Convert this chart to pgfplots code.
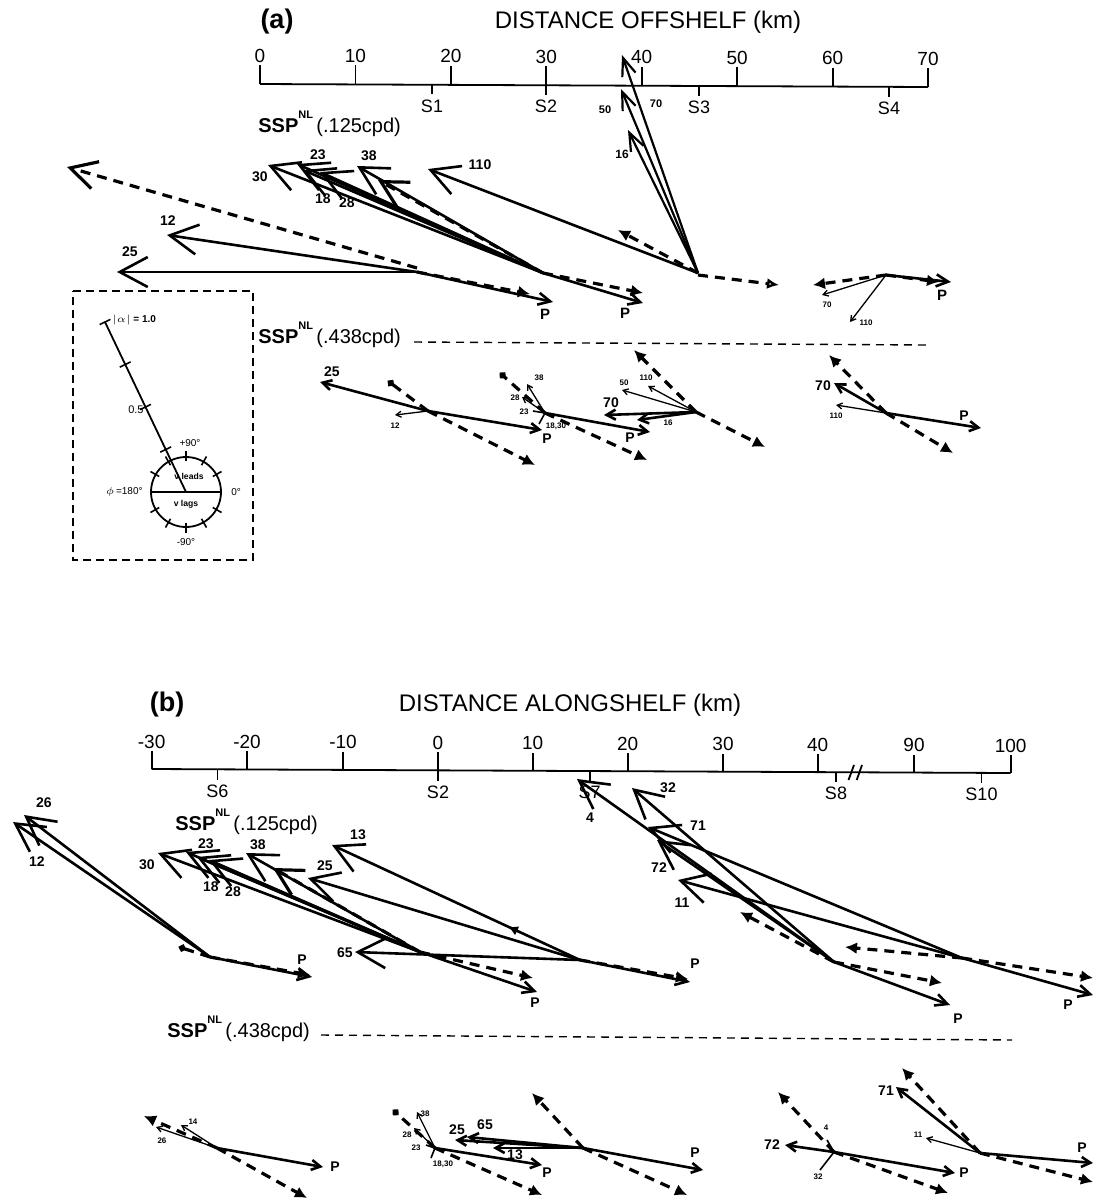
\documentclass[border=0pt]{standalone}
\usepackage{fontspec}
\setmainfont{Liberation Sans}
\usepackage{pgfplots}
\pgfplotsset{compat=1.18}
\usetikzlibrary{arrows.meta}
\tikzset{
 AL/.style={line width=1.3pt,-{Straight Barb[length=14pt,width=15pt]}},
 AN/.style={line width=1.1pt,-{Straight Barb[length=9pt,width=7pt]}},
 AM/.style={line width=1.3pt,-{Straight Barb[length=6pt,width=6pt]}},
 AS/.style={line width=1.3pt,-{Straight Barb[length=4.5pt,width=5pt]}},
 T/.style={line width=0.65pt,-{Straight Barb[length=2.5pt,width=3pt]}},
 PL/.style={line width=0.8pt},
 DD/.style={line width=1.6pt,dash pattern=on 5pt off 3.5pt},
 D/.style={DD,-{Latex[length=6pt,width=6pt]}},
 Ddot/.style={DD,-{Circle[length=3.5pt]}},
 DL/.style={DD,-{Straight Barb[length=13pt,width=14pt]}},
 DO/.style={DD,-{Latex[open,length=6pt,width=5.5pt]}},
}
\newcommand{\Vc}[5][AL]{\addplot[#1] coordinates {(#2,#3) (#4,#5)};}
\newcommand{\Tk}[3]{\addplot[line width=0.9pt] coordinates {(#1,#2) (#1,#3)};}
\newcommand{\Lb}[5][center]{\node[font=\fontsize{#2}{#2}\selectfont\bfseries,inner sep=0pt,anchor=#1] at (axis cs:#3,#4) {#5};}
\newcommand{\Lt}[5][center]{\node[font=\fontsize{#2}{#2}\selectfont,inner sep=0pt,anchor=#1] at (axis cs:#3,#4) {#5};}
\begin{document}
\begin{tikzpicture}
\begin{axis}[width=548pt,height=600.5pt,scale only axis,xmin=0,xmax=1096,ymin=0,ymax=1201,
  y dir=reverse,hide axis,clip=false,no marks]
% ================= PANEL (a) =================
\Lb{13.5}{277}{22}{(a)}
\Lt{12}{648}{22}{DISTANCE OFFSHELF (km)}
\addplot[line width=0.9pt] coordinates {(260,84) (928,87)};
\Tk{260}{84}{65}\Tk{355.4}{84.4}{65.4}\Tk{450.9}{84.9}{65.9}\Tk{546.3}{85.3}{66.3}
\Tk{641.7}{85.7}{66.7}\Tk{737.1}{86.1}{67.1}\Tk{832.6}{86.6}{67.6}\Tk{928}{87}{68}
\Tk{432}{84.8}{94}\Tk{546.3}{85.3}{95}\Tk{699}{86}{96}\Tk{889}{86.8}{97}
\Lt[base]{9.5}{260}{62}{0}\Lt[base]{9.5}{355.4}{62.4}{10}\Lt[base]{9.5}{450.9}{62.9}{20}
\Lt[base]{9.5}{546.3}{63.3}{30}\Lt[base]{9.5}{641.7}{63.7}{40}\Lt[base]{9.5}{737.1}{64.1}{50}
\Lt[base]{9.5}{832.6}{64.6}{60}\Lt[base]{9.5}{928}{65}{70}
\Lt[north]{9}{432}{100}{S1}\Lt[north]{9}{546}{100}{S2}\Lt[north]{9}{699}{101}{S3}\Lt[north]{9}{889}{102}{S4}
\Lt[base west]{10}{258}{132}{\textbf{SSP}\raisebox{7pt}{\fontsize{5.5}{5.5}\selectfont\bfseries NL}\,(.125cpd)}
% S1 group
\Vc[AL]{417}{272}{117}{272}
\Vc[AL]{417}{272}{167}{235}
\Vc[AM]{417}{272}{553}{302}
\Vc[DL]{417}{268}{67}{167}
\Vc[D]{417}{272}{530}{294}
\Lb{7}{130}{252}{25}\Lb{7}{168}{221}{12}\Lb{7.5}{545}{314}{P}
% S2 group
\Vc[AL]{543}{273}{268}{165}
\Vc[AL]{543}{273}{297}{164}
\Vc[AL]{543}{273}{303}{170}
\Vc[AL]{543}{273}{320}{172}
\Vc[AL]{543}{273}{357}{166}
\Vc[AM]{543}{273}{643}{303}
\Vc[D]{543}{273}{643}{293}
\Vc[DL]{543}{273}{378}{180}
\Lb{7}{260}{177}{30}\Lb{7}{318}{155}{23}\Lb{7}{323}{199}{18}\Lb{7}{347}{203}{28}\Lb{7}{369}{156}{38}
\Lb{7.5}{625}{313}{P}
% S3 group
\Vc[AL]{698}{273}{428}{169}
\Vc[AN]{698}{273}{622}{55}
\Vc[AN]{698}{273}{621}{89}
\Vc[AN]{698}{273}{628}{130}
\Vc[D]{698}{273}{618}{230}
\Vc[DO]{698}{275}{779}{285}
\Lb{7}{480}{165}{110}\Lb{5.5}{656}{104}{70}\Lb{5.5}{605}{110}{50}\Lb{6}{622}{154}{16}
% S4 group
\Vc[AM]{886}{275}{951}{282}
\Vc[D]{886}{275}{813}{285}
\Vc[D]{886}{275}{939}{282}
\Vc[T]{886}{275}{822}{295}
\Vc[T]{886}{275}{850}{322}
\Lb{7.5}{942}{295}{P}\Lb{4}{827}{305}{70}\Lb{4}{866}{323}{110}
% .438 line
\Lt[base west]{10}{258}{343}{\textbf{SSP}\raisebox{7pt}{\fontsize{5.5}{5.5}\selectfont\bfseries NL}\,(.438cpd)}
\addplot[line width=0.7pt,dash pattern=on 4pt off 3pt] coordinates {(414,342) (928,345)};
% inset
\addplot[line width=0.8pt,dash pattern=on 4pt off 2.5pt] coordinates {(73,291) (253,291) (253,560) (73,560) (73,291)};
\addplot[line width=0.9pt] coordinates {(105,322) (186,492)};
\addplot[line width=0.9pt] coordinates {(151,492) (221,492)};
\draw[line width=0.9pt] (axis cs:186,492) circle[radius=17.5pt];
\Tk{186}{461}{451}\Tk{186}{523}{533}
\addplot[line width=0.8pt] coordinates {(212.8,476.5) (221.5,471.5)};
\addplot[line width=0.8pt] coordinates {(201.5,465.2) (206.5,456.5)};
\addplot[line width=0.8pt] coordinates {(170.5,465.2) (165.5,456.5)};
\addplot[line width=0.8pt] coordinates {(159.2,476.5) (150.5,471.5)};
\addplot[line width=0.8pt] coordinates {(212.8,507.5) (221.5,512.5)};
\addplot[line width=0.8pt] coordinates {(201.5,518.8) (206.5,527.5)};
\addplot[line width=0.8pt] coordinates {(170.5,518.8) (165.5,527.5)};
\addplot[line width=0.8pt] coordinates {(159.2,507.5) (150.5,512.5)};
\addplot[line width=0.8pt] coordinates {(160.3,452.1) (171.1,446.9)};
\addplot[line width=0.8pt] coordinates {(140.1,409.6) (150.9,404.4)};
\addplot[line width=0.8pt] coordinates {(119.8,367.1) (130.6,361.9)};
\addplot[line width=0.8pt] coordinates {(99.6,324.6) (110.4,319.4)};
\Lb[west]{5}{112}{320}{$|\alpha|$ = 1.0}
\Lt[east]{5.5}{144}{410}{0.5}
\Lt{5}{190}{443}{+90°}
\Lt{5}{186}{542}{-90°}
\Lt[west]{5}{231}{492}{0°}
\Lt[east]{5}{143}{492}{$\phi$\,=180°}
\Lb{4.3}{189}{476}{v leads}
\Lb{4.3}{186}{504}{v lags}
% .438 group A
\Vc[AS]{428}{411}{320}{382}
\Vc[T]{428}{411}{395}{415}
\Vc[AS]{428}{411}{542}{430}
\Vc[Ddot]{428}{411}{388}{381}
\Vc[D]{428}{411}{535}{465}
\Lb{7}{332}{372}{25}\Lb{4}{395}{426}{12}\Lb{7}{547}{439}{P}
% group B
\Vc[AS]{545}{413}{650}{432}
\Vc[Ddot]{545}{413}{500}{373}
\Vc[D]{545}{413}{647}{460}
\Vc[T]{545}{413}{527}{384}
\Vc[T]{545}{413}{522}{397}
\Vc[PL]{545}{413}{533}{411}
\Vc[PL]{545}{413}{539}{424}
\Lb{4}{539}{378}{38}\Lb{4}{515}{398}{28}\Lb{4}{524}{412}{23}\Lb{4}{556}{426}{18,30}\Lb{7}{630}{438}{P}
% group C
\Vc[AS]{696}{412}{604}{415}
\Vc[AS]{696}{412}{637}{420}
\Vc[T]{696}{412}{622}{390}
\Vc[T]{696}{412}{648}{386}
\Vc[D]{696}{412}{634}{350}
\Vc[D]{696}{412}{765}{447}
\Lb{7}{611}{403}{70}\Lb{4}{668}{423}{16}\Lb{4}{624}{383}{50}\Lb{4}{646}{378}{110}
% group D
\Vc[AS]{886}{413}{981}{428}
\Vc[AS]{886}{413}{834}{383}
\Vc[T]{886}{413}{836}{405}
\Vc[D]{886}{413}{829}{355}
\Vc[D]{886}{413}{953}{453}
\Lb{7}{964}{416}{P}\Lb{7}{823}{386}{70}\Lb{4}{836}{416}{110}
% ================= PANEL (b) =================
\Lb{13.5}{167}{705}{(b)}
\Lt{12}{570}{705}{DISTANCE ALONGSHELF (km)}
\addplot[line width=0.9pt] coordinates {(151.6,769) (1010.6,773)};
\Tk{151.6}{769}{751}\Tk{247}{769.4}{751.4}\Tk{343}{769.9}{751.9}\Tk{438}{770.3}{752.3}
\Tk{532.6}{770.8}{752.8}\Tk{627.6}{771.2}{753.2}\Tk{723}{771.7}{753.7}\Tk{817.7}{772.1}{754.1}
\Tk{914}{772.5}{754.5}\Tk{1010.6}{773}{755}
\Tk{217.5}{769.5}{780}\Tk{438}{770.3}{781}\Tk{589.6}{771}{781}\Tk{836}{772.2}{782}\Tk{981.5}{772.9}{783}
\addplot[line width=0.9pt] coordinates {(848.5,780) (854,765)};
\addplot[line width=0.9pt] coordinates {(856.7,780) (862,765)};
\Lt[base]{9.5}{151.6}{748}{-30}\Lt[base]{9.5}{247}{748.4}{-20}\Lt[base]{9.5}{343}{748.9}{-10}
\Lt[base]{9.5}{438}{749.3}{0}\Lt[base]{9.5}{532.6}{749.8}{10}\Lt[base]{9.5}{627.6}{750.2}{20}
\Lt[base]{9.5}{723}{750.7}{30}\Lt[base]{9.5}{817.7}{751.1}{40}\Lt[base]{9.5}{914}{751.5}{90}
\Lt[base]{9.5}{1010.6}{752}{100}
\Lt[north]{9}{217.5}{785}{S6}\Lt[north]{9}{438}{786}{S2}\Lt[north]{9}{589.6}{786}{S7}
\Lt[north]{9}{836}{787}{S8}\Lt[north]{9}{981.5}{788}{S10}
\Lt[base west]{10}{175}{830}{\textbf{SSP}\raisebox{7pt}{\fontsize{5.5}{5.5}\selectfont\bfseries NL}\,(.125cpd)}
% S6
\Vc[AL]{210}{957}{24}{815}
\Vc[AL]{210}{957}{13}{822}
\Vc[AM]{210}{957}{312}{977}
\Vc[D]{210}{957}{310}{975}
\Vc[Ddot]{210}{957}{179}{947}
\Lb{7}{44}{803}{26}\Lb{7}{37}{862}{12}\Lb{7}{302}{960}{P}
% S2
\Vc[AL]{420}{952}{158}{853}
\Vc[AL]{420}{952}{186}{852}
\Vc[AL]{420}{952}{197}{857}
\Vc[AL]{420}{952}{209}{860}
\Vc[AL]{420}{952}{246}{853}
\Vc[DL]{420}{952}{273}{868}
\Vc[AM]{420}{952}{537}{992}
\Vc[D]{420}{952}{533}{978}
\Lb{7}{147}{865}{30}\Lb{7}{206}{844}{23}\Lb{7}{211}{887}{18}\Lb{7}{233}{892}{28}\Lb{7}{258}{845}{38}
\Lb{7}{535}{1003}{P}
% S7
\Vc[AL]{580}{960}{332}{845}
\Vc[AL]{580}{960}{308}{878}
\Vc[AL]{580}{960}{355}{952}
\Vc[AM]{580}{960}{690}{982}
\Vc[D]{580}{960}{688}{979}
\addplot[line width=1pt,-{Latex[length=5pt,width=5pt]}] coordinates {(520,932.2) (508,926.6)};
\Lb{7}{358}{835}{13}\Lb{7}{325}{866}{25}\Lb{7}{345}{953}{65}\Lb{7}{695}{964}{P}
% S8
\Vc[AL]{834}{962}{577}{779}
\Vc[AL]{834}{962}{632}{788}
\Vc[AL]{834}{962}{657}{840}
\Vc[AM]{834}{962}{950}{1005}
\Vc[D]{834}{962}{740}{912}
\Vc[D]{834}{962}{942}{983}
\Lb{7}{590}{818}{4}\Lb{7}{668}{788}{32}\Lb{7}{659}{868}{72}\Lb{7}{958}{1019}{P}
% S10
\Vc[AL]{962}{958}{648}{827}
\Vc[AL]{962}{958}{678}{880}
\Vc[AM]{962}{958}{1093}{995}
\Vc[D]{962}{958}{845}{947}
\Vc[D]{962}{958}{1093}{978}
\Lb{7}{698}{826}{71}\Lb{7}{682}{903}{11}\Lb{7}{1068}{1005}{P}
% .438 line
\Lt[base west]{10}{167}{1037}{\textbf{SSP}\raisebox{7pt}{\fontsize{5.5}{5.5}\selectfont\bfseries NL}\,(.438cpd)}
\addplot[line width=0.7pt,dash pattern=on 4pt off 3pt] coordinates {(321,1035) (1012,1040)};
% S6 .438
\Vc[D]{217}{1148}{144}{1116}
\Vc[D]{217}{1148}{307}{1198}
\Vc[T]{217}{1148}{156}{1127}
\Vc[T]{217}{1148}{181}{1125}
\Vc[AS]{217}{1148}{323}{1167}
\Lb{4}{162}{1141}{26}\Lb{4}{193}{1122}{14}\Lb{7}{335}{1167}{P}
% S2 .438
\Vc[Ddot]{435}{1148}{393}{1110}
\Vc[D]{435}{1148}{542}{1195}
\Vc[T]{435}{1148}{417}{1112}
\Vc[T]{435}{1148}{414}{1128}
\Vc[PL]{435}{1148}{426}{1145}
\Vc[PL]{435}{1148}{431}{1158}
\Vc[AS]{435}{1148}{542}{1165}
\Lb{4}{425}{1114}{38}\Lb{4}{407}{1135}{28}\Lb{4}{416}{1148}{23}\Lb{4}{443}{1164}{18,30}\Lb{7}{547}{1173}{P}
% S7 .438
\Vc[AS]{583}{1148}{455}{1140}
\Vc[AS]{583}{1148}{467}{1137}
\Vc[AS]{583}{1148}{493}{1148}
\Vc[AS]{583}{1148}{703}{1170}
\Vc[D]{583}{1148}{532}{1093}
\Vc[D]{583}{1148}{687}{1195}
\Lb{7}{457}{1130}{25}\Lb{7}{485}{1125}{65}\Lb{7}{515}{1155}{13}\Lb{7}{695}{1153}{P}
% S8 .438
\Vc[D]{834}{1152}{778}{1092}
\Vc[D]{834}{1152}{948}{1193}
\Vc[PL]{834}{1152}{827}{1140}
\Vc[AS]{834}{1152}{785}{1145}
\Vc[PL]{834}{1152}{820}{1170}
\Vc[AS]{834}{1152}{955}{1173}
\Lb{4}{826}{1128}{4}\Lb{7}{772}{1145}{72}\Lb{4}{818}{1177}{32}\Lb{7}{964}{1173}{P}
% S10 .438
\Vc[D]{980}{1153}{902}{1068}
\Vc[D]{980}{1153}{1093}{1182}
\Vc[AS]{980}{1153}{896}{1087}
\Vc[T]{980}{1153}{926}{1138}
\Vc[AS]{980}{1153}{1093}{1163}
\Lb{7}{886}{1091}{71}\Lb{4}{918}{1135}{11}\Lb{7}{1082}{1148}{P}
\coordinate (BL) at (axis cs:0,1201);
\coordinate (TR) at (axis cs:1096,0);
\end{axis}
\pgfresetboundingbox
\path[use as bounding box] (BL) rectangle (TR);
\end{tikzpicture}
\end{document}
